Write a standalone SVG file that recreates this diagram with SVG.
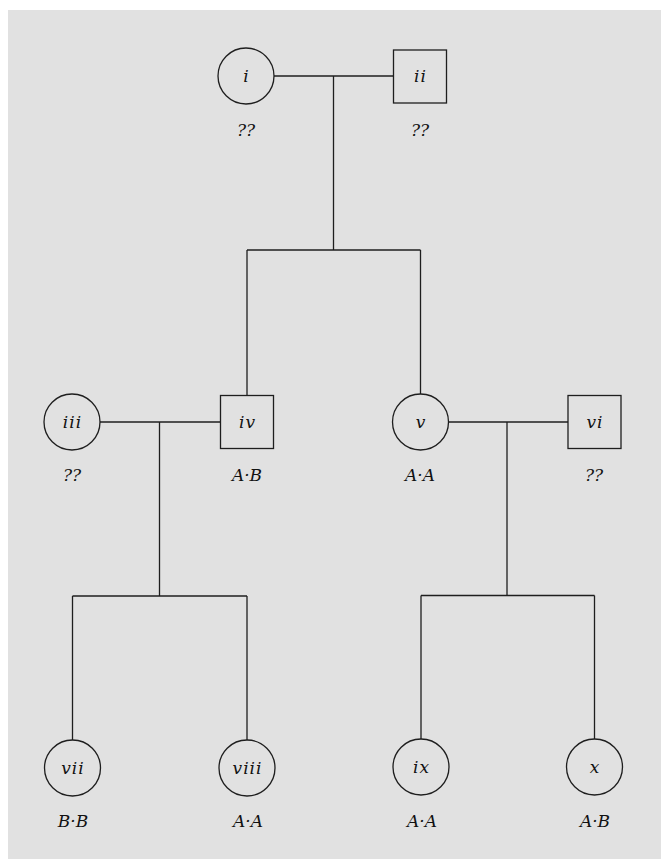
<svg xmlns="http://www.w3.org/2000/svg" width="661" height="859" viewBox="0 0 661 859">
<style>
.shape{fill:none;stroke:#1e1e1e;stroke-width:1.3}
.conn line{stroke:#1e1e1e;stroke-width:1.3}
.name{font-family:'DejaVu Serif','Liberation Serif',serif;font-style:italic;font-size:17px;letter-spacing:1px;text-anchor:middle;fill:#111}
.geno{font-family:'DejaVu Serif','Liberation Serif',serif;font-style:italic;font-size:17px;text-anchor:middle;fill:#111}
</style>
<rect x="0" y="0" width="661" height="859" fill="#ffffff"/>
<rect x="8" y="10" width="653" height="849" fill="#e1e1e1"/>
<g class="conn" id="connectors">
<line x1="274" y1="76" x2="393.5" y2="76"/>
<line x1="333.5" y1="76" x2="333.5" y2="250"/>
<line x1="247" y1="250" x2="420.5" y2="250"/>
<line x1="247" y1="250" x2="247" y2="395.5"/>
<line x1="420.5" y1="250" x2="420.5" y2="394"/>
<line x1="100" y1="422" x2="220.5" y2="422"/>
<line x1="159.5" y1="422" x2="159.5" y2="596"/>
<line x1="72.5" y1="596" x2="247" y2="596"/>
<line x1="72.5" y1="596" x2="72.5" y2="740"/>
<line x1="247" y1="596" x2="247" y2="740"/>
<line x1="448.5" y1="422" x2="568" y2="422"/>
<line x1="507" y1="422" x2="507" y2="595.5"/>
<line x1="421" y1="595.5" x2="594.5" y2="595.5"/>
<line x1="421" y1="595.5" x2="421" y2="739"/>
<line x1="594.5" y1="595.5" x2="594.5" y2="739"/>
</g>
<g id="n-i"><circle class="shape" cx="246" cy="76" r="28"/><text class="name" x="246.5" y="82">i</text><text class="geno" x="246" y="136">??</text></g>
<g id="n-ii"><rect class="shape" x="393.5" y="50" width="53" height="53"/><text class="name" x="420.5" y="82">ii</text><text class="geno" x="420" y="136">??</text></g>
<g id="n-iii"><circle class="shape" cx="72" cy="422" r="28"/><text class="name" x="72.5" y="428">iii</text><text class="geno" x="72" y="481">??</text></g>
<g id="n-iv"><rect class="shape" x="220.5" y="395.5" width="53" height="53"/><text class="name" x="247.5" y="428">iv</text><text class="geno" x="247" y="481">A·B</text></g>
<g id="n-v"><circle class="shape" cx="420.5" cy="422" r="28"/><text class="name" x="421" y="428">v</text><text class="geno" x="420" y="481">A·A</text></g>
<g id="n-vi"><rect class="shape" x="568" y="395.5" width="53" height="53"/><text class="name" x="595" y="428">vi</text><text class="geno" x="594" y="481">??</text></g>
<g id="n-vii"><circle class="shape" cx="72.5" cy="768" r="28"/><text class="name" x="73" y="774">vii</text><text class="geno" x="73" y="827">B·B</text></g>
<g id="n-viii"><circle class="shape" cx="247" cy="768" r="28"/><text class="name" x="247.5" y="774">viii</text><text class="geno" x="248" y="827">A·A</text></g>
<g id="n-ix"><circle class="shape" cx="421" cy="767" r="28"/><text class="name" x="421.5" y="773">ix</text><text class="geno" x="422" y="827">A·A</text></g>
<g id="n-x"><circle class="shape" cx="594.5" cy="767" r="28"/><text class="name" x="595" y="773">x</text><text class="geno" x="595" y="827">A·B</text></g>
</svg>
